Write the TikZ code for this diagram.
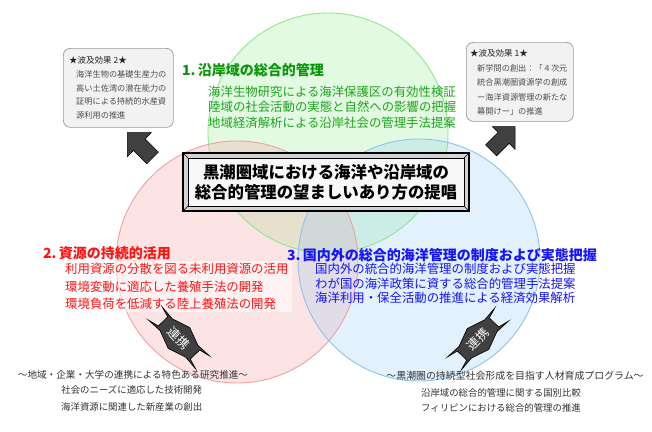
\documentclass[tikz,border=0pt]{standalone}
\usepackage{fontspec}
\newfontfamily\jp{Noto Sans CJK JP}
\definecolor{gfill}{RGB}{140,235,140}
\definecolor{rfill}{RGB}{250,150,150}
\definecolor{bfill}{RGB}{140,200,245}
\definecolor{gline}{RGB}{142,232,142}
\definecolor{rline}{RGB}{240,160,160}
\definecolor{bline}{RGB}{140,196,240}
\definecolor{ghead}{RGB}{10,150,10}
\definecolor{gtext}{RGB}{30,165,30}
\definecolor{rtext}{RGB}{255,20,20}
\definecolor{btext}{RGB}{20,20,255}
\definecolor{arrowgray}{RGB}{64,64,64}
\tikzset{
  circ/.style={line width=0.9pt},
  headtxt/.style={anchor=west, inner sep=0pt, font=\jp\bfseries\fontsize{14}{16}\selectfont},
  bodytxt/.style={anchor=west, inner sep=0pt, font=\jp\fontsize{12.4}{14}\selectfont},
  boxhead/.style={anchor=west, inner sep=0pt, font=\jp\fontsize{8.5}{10}\selectfont, text=black!85},
  boxtxt/.style={anchor=west, inner sep=0pt, font=\jp\fontsize{8.2}{10}\selectfont, text=black!70},
  bottxt/.style={anchor=center, inner sep=0pt, font=\jp\fontsize{9.4}{11}\selectfont, text=black!80},
  infobox/.style={draw=black!40, fill=black!5, rounded corners=7pt, line width=0.7pt},
  blockarrow/.style={fill=arrowgray, draw=black, line width=0.5pt},
  renkeishape/.style={fill=arrowgray, draw=black, line width=0.6pt},
  renkeitxt/.style={inner sep=0pt, text=white, font=\jp\fontsize{12.5}{14}\selectfont},
  titletxt/.style={inner sep=0pt, font=\jp\bfseries\fontsize{16.4}{20}\selectfont}
}
\begin{document}
\begin{tikzpicture}[x=1pt,y=-1pt]
\useasboundingbox (0,0) rectangle (652,431);
\fill[white] (0,0) rectangle (652,431);
% circles
\fill[gfill, fill opacity=0.25] (328,133) circle (120);
\fill[rfill, fill opacity=0.25] (237,262) circle (121);
\fill[bfill, fill opacity=0.25] (419,260) circle (121);
\draw[circ, gline] (328,133) circle (120);
\draw[circ, rline] (237,262) circle (121);
\draw[circ, bline] (419,260) circle (121);
% info boxes
\node[infobox, minimum width=110pt, minimum height=79pt, anchor=north west] (box2) at (63,48) {};
\node[infobox, minimum width=107pt, minimum height=79pt, anchor=north west] (box1) at (466,42) {};
\node[boxhead] (b2h) at (69,60) {★波及効果 2★};
\node[boxtxt] (b2a) at (76,74) {海洋生物の基礎生産力の};
\node[boxtxt] (b2b) at (76,88) {高い土佐湾の潜在能力の};
\node[boxtxt] (b2c) at (76,101.5) {証明による持続的水産資};
\node[boxtxt] (b2d) at (76,115) {源利用の推進};
\node[boxhead] (b1h) at (470,53) {★波及効果 1★};
\node[boxtxt] (b1a) at (477,68.5) {新学問の創出：「４次元};
\node[boxtxt] (b1b) at (477,82.5) {統合黒潮圏資源学の創成};
\node[boxtxt] (b1c) at (477,97) {ー海洋資源管理の新たな};
\node[boxtxt] (b1d) at (477,111) {幕開けー」の推進};
% block arrows
\draw[blockarrow] (127.3,132.7) -- (151.3,132.7) -- (145.1,138.9) -- (158.3,152.1) -- (146.7,163.7) -- (133.5,150.5) -- (127.3,156.7) -- cycle;
\draw[blockarrow] (515,126.5) -- (492.2,126.5) -- (498.1,132.4) -- (485.55,144.9) -- (496.6,155.95) -- (509.1,143.4) -- (515,149.3) -- cycle;
% central title box (bevel)
\fill[black!18, fill opacity=0.9] (183,153) rectangle (469,211);
\fill[white, fill opacity=0.85] (188,158) rectangle (464,206);
\draw[line width=1.1pt] (183,153) rectangle (469,211);
\draw[line width=0.8pt] (188,158) rectangle (464,206);
\draw[line width=0.6pt] (183,153) -- (188,158) (469,153) -- (464,158) (183,211) -- (188,206) (469,211) -- (464,206);
\node[titletxt] (t1) at (326,172) {黒潮圏域における海洋や沿岸域の};
\node[titletxt] (t2) at (326,192) {総合的管理の望ましいあり方の提唱};
% circle 1 text
\node[headtxt, text=ghead] (h1) at (182,70) {1.\,沿岸域の総合的管理};
\node[bodytxt, text=gtext] (g1) at (208,91.5) {海洋生物研究による海洋保護区の有効性検証};
\node[bodytxt, text=gtext] (g2) at (208,107) {陸域の社会活動の実態と自然への影響の把握};
\node[bodytxt, text=gtext] (g3) at (208,122.5) {地域経済解析による沿岸社会の管理手法提案};
% circle 2 text
\fill[white, fill opacity=0.55] (62,261) rectangle (292,312);
\node[headtxt, text=rtext] (h2) at (43,253) {2.\,資源の持続的活用};
\node[bodytxt, text=rtext] (r1) at (65,269) {利用資源の分散を図る未利用資源の活用};
\node[bodytxt, text=rtext] (r2) at (65,286.5) {環境変動に適応した養殖手法の開発};
\node[bodytxt, text=rtext] (r3) at (65,304) {環境負荷を低減する陸上養殖法の開発};
% circle 3 text
\node[headtxt, text=btext] (h3) at (287,255) {3.\,国内外の総合的海洋管理の制度および実態把握};
\node[bodytxt, text=btext] (bl1) at (315,269) {国内外の統合的海洋管理の制度および実態把握};
\node[bodytxt, text=btext] (bl2) at (315,283.5) {わが国の海洋政策に資する総合的管理手法提案};
\node[bodytxt, text=btext] (bl3) at (315,298) {海洋利用・保全活動の推進による経済効果解析};
% renkei shapes
\begin{scope}[shift={(179,338)}, x=1pt, y=1pt, rotate=-46]
\draw[renkeishape] (-23,-6.5) -- (-34,-9.5) -- (-18.5,-8.5) -- (0,-15) -- (18.5,-8.5) -- (34,-9.5) -- (23,-6.5) -- (23,6.5) -- (34,9.5) -- (18.5,8.5) -- (0,15) -- (-18.5,8.5) -- (-34,9.5) -- (-23,6.5) -- cycle;
\node[renkeitxt, transform shape] (rk1) at (0,0) {連携};
\end{scope}
\begin{scope}[shift={(478,339)}, x=1pt, y=1pt, rotate=46]
\draw[renkeishape] (-23,-6.5) -- (-34,-9.5) -- (-18.5,-8.5) -- (0,-15) -- (18.5,-8.5) -- (34,-9.5) -- (23,-6.5) -- (23,6.5) -- (34,9.5) -- (18.5,8.5) -- (0,15) -- (-18.5,8.5) -- (-34,9.5) -- (-23,6.5) -- cycle;
\node[renkeitxt, transform shape] (rk2) at (0,0) {連携};
\end{scope}
% bottom texts
\node[bottxt, font=\jp\fontsize{9.6}{11}\selectfont] (bl) at (133,375) {～地域・企業・大学の連携による特色ある研究推進～};
\node[bottxt] (bla) at (131.7,390) {社会のニーズに適応した技術開発};
\node[bottxt] (blb) at (131.7,406.7) {海洋資源に関連した新産業の創出};
\node[bottxt, font=\jp\fontsize{9.9}{11}\selectfont] (br) at (515,376) {～黒潮圏の持続型社会形成を目指す人材育成プログラム～};
\node[bottxt] (bra) at (501,392.7) {沿岸域の総合的管理に関する国別比較};
\node[bottxt] (brb) at (501,408.3) {フィリピンにおける総合的管理の推進};
\end{tikzpicture}
\end{document}
